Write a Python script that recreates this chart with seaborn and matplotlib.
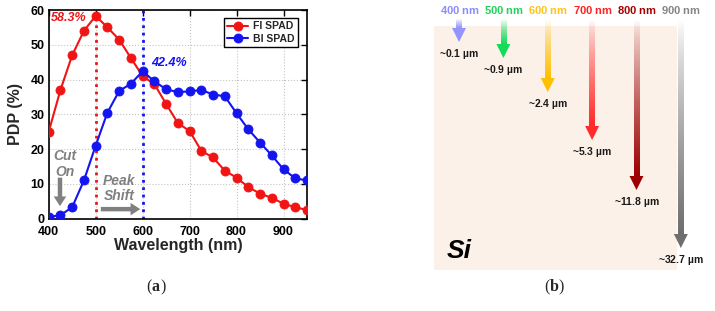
import numpy as np
import pandas as pd
import matplotlib
matplotlib.use("Agg")
import matplotlib.pyplot as plt
from matplotlib.patches import Rectangle, Polygon
from matplotlib.colors import to_rgb
import seaborn as sns

# ---- data: panel (a) ----
wavelength = list(range(400, 951, 25))
fi_spad = [25.0, 37.0, 47.0, 54.0, 58.3, 55.0, 51.5, 46.2, 41.0, 38.7, 33.0, 27.5,
           25.2, 19.5, 17.6, 13.8, 11.8, 9.1, 7.2, 6.0, 4.3, 3.3, 2.5]
bi_spad = [0.5, 1.0, 3.3, 11.0, 21.0, 30.5, 36.7, 38.8, 42.4, 39.5, 37.2, 36.4,
           36.6, 37.0, 35.7, 35.2, 30.3, 25.7, 21.9, 18.2, 14.2, 11.6, 11.0]
series_names = ["FI SPAD", "BI SPAD"]

# ---- data: panel (b) ----
light_nm = [400, 500, 600, 700, 800, 900]
depth_labels = ["0.1", "0.9", "2.4", "5.3", "11.8", "32.7"]
label_colors = ["#8c8cff", "#1fd35a", "#ffc21a", "#ff2020", "#a80000", "#858585"]
arrow_colors = ["#9494ff", "#12dc58", "#ffc000", "#ff2a2a", "#9c0000", "#6e6e6e"]
arrow_tip = [42, 58, 92, 140, 190, 248]   # drawing depth (px-like units)

sns.set_style("white")
plt.rcParams["font.family"] = ["Liberation Sans", "DejaVu Sans"]
plt.rcParams["font.weight"] = "bold"
plt.rcParams["axes.labelweight"] = "bold"
plt.rcParams["mathtext.fontset"] = "custom"
plt.rcParams["mathtext.it"] = "Liberation Sans:bold:italic"
plt.rcParams["mathtext.rm"] = "Liberation Sans:bold"
plt.rcParams["mathtext.bf"] = "Liberation Sans:bold"

df = pd.DataFrame({
    "wl": wavelength * 2,
    "pdp": fi_spad + bi_spad,
    "device": [series_names[0]] * len(wavelength) + [series_names[1]] * len(wavelength),
})

red, blue, grey = "#f01414", "#1414f0", "#808080"

fig = plt.figure(figsize=(7.15, 3.11), dpi=100)
ax = fig.add_axes([48.7 / 715, (311 - 218.7) / 311, 258.3 / 715, 208.7 / 311])

sns.lineplot(data=df, x="wl", y="pdp", hue="device", hue_order=series_names,
             palette={series_names[0]: red, series_names[1]: blue},
             marker="o", markersize=6.5, markeredgewidth=0.6,
             linewidth=1.5, legend=False, ax=ax, zorder=3)
for ln, c in zip(ax.lines[:2], [red, blue]):
    ln.set_markeredgecolor(c)
    ln.set_markerfacecolor(c)
ax.legend(ax.lines[:2], series_names, loc="upper right", fontsize=7.5, frameon=True,
          fancybox=False, edgecolor="black", framealpha=1, handlelength=2.0,
          borderpad=0.3, labelspacing=0.25, handletextpad=0.5,
          bbox_to_anchor=(0.985, 0.985))

peak_fi = max(fi_spad)
peak_bi = max(bi_spad)
ax.plot([500, 500], [0, peak_fi], color=red, linestyle=":", linewidth=2, zorder=2)
ax.plot([600, 600], [0, 60], color=blue, linestyle=":", linewidth=2, zorder=2)

ax.text(442, 57.7, f"{peak_fi}%", color=red, fontsize=9, fontstyle="italic",
        ha="center", va="center")
ax.text(656, 44.8, f"{peak_bi}%", color=blue, fontsize=9, fontstyle="italic",
        ha="center", va="center")
ax.text(434, 15.8, "Cut\nOn", color=grey, fontsize=10, fontstyle="italic",
        ha="center", va="center", linespacing=1.15)
ax.text(550, 8.7, "Peak\nShift", color=grey, fontsize=10, fontstyle="italic",
        ha="center", va="center", linespacing=1.15)
ax.annotate("", xy=(424, 3.6), xytext=(424, 11.8),
            arrowprops=dict(facecolor=grey, edgecolor="none", width=3.2,
                            headwidth=9, headlength=7, shrink=0))
ax.annotate("", xy=(595, 2.75), xytext=(511, 2.75),
            arrowprops=dict(facecolor=grey, edgecolor="none", width=3.2,
                            headwidth=9, headlength=7, shrink=0))

ax.set_xlim(400, 950)
ax.set_ylim(0, 60)
ax.set_xticks(range(400, 901, 100))
ax.set_yticks(range(0, 61, 10))
ax.grid(True, linestyle=":", color="#c4c4c4", linewidth=0.8)
ax.set_axisbelow(True)
ax.tick_params(direction="in", top=True, right=True, length=4, width=1,
               labelsize=9, colors="black")
ax.tick_params(axis="x", pad=5)
ax.tick_params(axis="y", pad=3)
for s in ax.spines.values():
    s.set_visible(True)
    s.set_color("black")
    s.set_linewidth(1.2)
ax.set_xlabel("Wavelength (nm)", fontsize=11.5, labelpad=0)
ax.set_ylabel("PDP (%)", fontsize=11.5, labelpad=5)

# ---- panel (b): penetration depth diagram ----
bx = fig.add_axes([400 / 715, 0, 315 / 715, 1])
bx.axis("off")
bx.add_patch(Rectangle((343.6, 26), 891.3 - 343.6, 270 - 26, facecolor="#fcf1e9",
                       edgecolor="none", zorder=0))

shaft_w, head_w, head_l, shaft_top = 12.4, 31.5, 14, 20
for wl, tip, c in zip(light_nm, arrow_tip, arrow_colors):
    rgb = np.array(to_rgb(c))
    n = 64
    grad = np.zeros((n, 1, 4))
    grad[:, 0, :3] = rgb
    grad[:, 0, 3] = np.linspace(0.0, 1.0, n) ** 0.8
    bx.imshow(grad, extent=(wl - shaft_w / 2, wl + shaft_w / 2, tip - head_l + 0.5, shaft_top),
              origin="upper", aspect="auto", interpolation="bilinear", zorder=2)
    bx.add_patch(Polygon([(wl - head_w / 2, tip - head_l), (wl + head_w / 2, tip - head_l),
                          (wl, tip)], closed=True, facecolor=c, edgecolor="none", zorder=3))

for wl, d, tip, lc in zip(light_nm, depth_labels, arrow_tip, label_colors):
    bx.text(wl + 1, 10, rf"$\mathit{{{wl}}}$ nm", color=lc, fontsize=8,
            ha="center", va="center")
    bx.text(wl, tip + 12, rf"~$\mathit{{{d}}}$ µm", color="#1a1a1a", fontsize=7.5,
            ha="center", va="center")

bx.text(372, 251, "Si", fontsize=19, fontstyle="italic", color="black",
        ha="left", va="center")
bx.set_xlim(267, 977)
bx.set_ylim(311, 0)

# captions: regular parentheses around a bold letter
for cx, letter in [(156, "a"), (554, "b")]:
    cy = 1 - 287 / 311
    kw = dict(family="Liberation Serif", fontsize=11.5, va="center",
              textcoords="offset pixels", xycoords="figure fraction")
    fig.axes[0].annotate("(", (cx / 715, cy), xytext=(-4.5, 0), ha="right",
                         fontweight="normal", **kw)
    fig.axes[0].annotate(letter, (cx / 715, cy), xytext=(0, 0), ha="center",
                         fontweight="bold", **kw)
    fig.axes[0].annotate(")", (cx / 715, cy), xytext=(4.5, 0), ha="left",
                         fontweight="normal", **kw)

fig.savefig("out.png", dpi=100)
